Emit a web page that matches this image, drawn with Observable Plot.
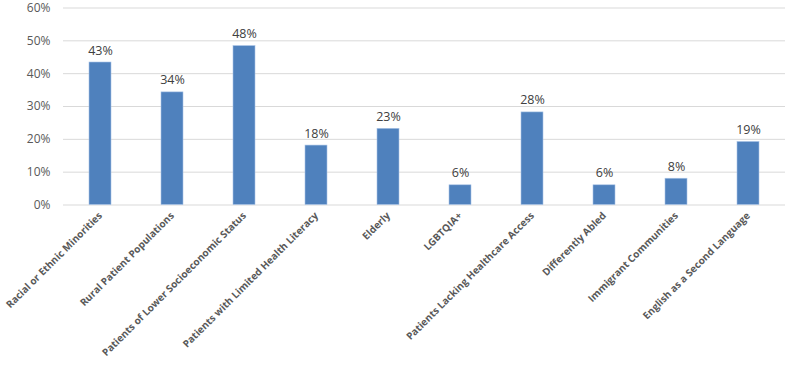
<!DOCTYPE html>
<html>
<head>
<meta charset="utf-8">
<script src="https://cdn.jsdelivr.net/npm/d3@7"></script>
<script src="https://cdn.jsdelivr.net/npm/@observablehq/plot@0.6"></script>
<style>
  html, body { margin: 0; padding: 0; background: #fff; }
  #chart svg { display: block; overflow: visible; }
</style>
</head>
<body>
<div id="chart"></div>
<script>
const categories = [
  "Racial or Ethnic Minorities",
  "Rural Patient Populations",
  "Patients of Lower Socioeconomic Status",
  "Patients with Limited Health Literacy",
  "Elderly",
  "LGBTQIA+",
  "Patients Lacking Healthcare Access",
  "Differently Abled",
  "Immigrant Communities",
  "English as a Second Language"
];
const values = [0.434, 0.343, 0.484, 0.181, 0.232, 0.060, 0.282, 0.060, 0.080, 0.192];
const yTicks = [0, 0.1, 0.2, 0.3, 0.4, 0.5, 0.6];

const data = categories.map((c, i) => ({category: c, value: values[i]}));

const chart = Plot.plot({
  width: 785,
  height: 369,
  marginTop: 7.5,
  marginBottom: 164.5,
  marginLeft: 63,
  marginRight: 0,
  style: {fontFamily: "'Open Sans', sans-serif", color: "#595959", background: "#fff"},
  x: {domain: categories, paddingInner: 0.69, paddingOuter: 0.345, label: null},
  y: {domain: [0, 0.6], ticks: yTicks, label: null, tickFormat: d => Math.round(d * 100) + "%"},
  marks: [
    Plot.gridY(yTicks, {stroke: "#d9d9d9", strokeOpacity: 1, strokeWidth: 1}),
    Plot.axisY({ticks: yTicks, tickSize: 0, tickPadding: 13, fontSize: 12, fill: "#595959", label: null, tickFormat: d => Math.round(d * 100) + "%"}),
    Plot.axisX({tickSize: 0, tickPadding: 9, tickRotate: -45, fontSize: 10, fontWeight: "bold", fill: "#595959", label: null}),
    Plot.barY(data, {x: "category", y: "value", fill: "#4f81bd", stroke: "#a9c4e6", strokeWidth: 0.6}),
    Plot.text(data, {x: "category", y: "value", text: d => Math.round(d.value * 100) + "%", lineAnchor: "bottom", dy: -8, fontSize: 12.5, fill: "#404040"})
  ]
});
document.getElementById("chart").append(chart);
</script>
</body>
</html>
